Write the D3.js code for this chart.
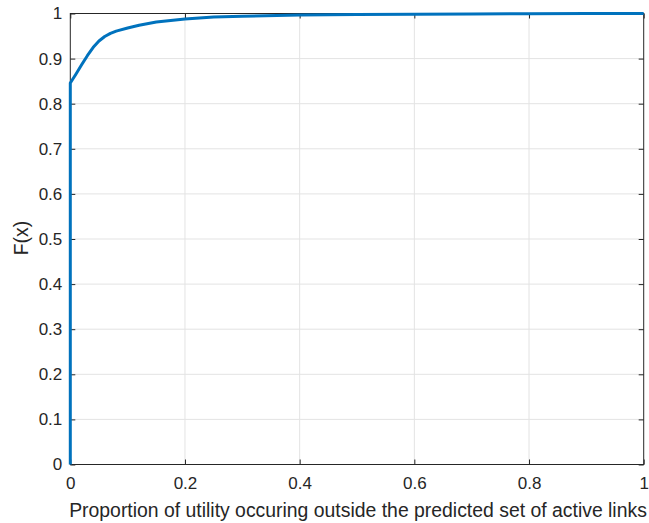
<!DOCTYPE html>
<html><head><meta charset="utf-8">
<script src="https://cdn.jsdelivr.net/npm/d3@7"></script>
<style>body{margin:0;background:#fff}svg{display:block}</style>
</head><body><svg id="c" width="649" height="523"></svg>
<script>
const xVals = [0, 0, 0.01, 0.02, 0.03, 0.04, 0.05, 0.06, 0.07, 0.08, 0.1, 0.12, 0.15, 0.2, 0.25, 0.3, 0.4, 0.5, 0.6, 0.7, 0.8, 0.9, 1];
const yVals = [0, 0.846, 0.866, 0.887, 0.907, 0.925, 0.939, 0.949, 0.956, 0.961, 0.968, 0.974, 0.981, 0.988, 0.992, 0.994, 0.9965, 0.998, 0.9985, 0.999, 0.9995, 0.9998, 1];
const xTicks = [0, 0.2, 0.4, 0.6, 0.8, 1];
const yTicks = [0, 0.1, 0.2, 0.3, 0.4, 0.5, 0.6, 0.7, 0.8, 0.9, 1];
const xLabel = "Proportion of utility occuring outside the predicted set of active links";
const yLabel = "F(x)";

const L = 70.3, R = 643.7, T = 13.5, B = 464.5;
const svg = d3.select("#c");
const x = d3.scaleLinear().domain([0, 1]).range([L, R]);
const y = d3.scaleLinear().domain([0, 1]).range([B, T]);
const font = "'Liberation Sans', Arial, Helvetica, sans-serif";
const axisCol = "#262626";

// grid
svg.append("g").selectAll("line").data(xTicks.slice(1, -1)).join("line")
  .attr("x1", d => x(d)).attr("x2", d => x(d)).attr("y1", T).attr("y2", B)
  .attr("stroke", "#e3e3e3").attr("stroke-width", 1);
svg.append("g").selectAll("line").data(yTicks.slice(1, -1)).join("line")
  .attr("x1", L).attr("x2", R).attr("y1", d => y(d)).attr("y2", d => y(d))
  .attr("stroke", "#e3e3e3").attr("stroke-width", 1);

// axes (ticks inward)
const gx = svg.append("g").attr("transform", `translate(0,${B})`)
  .call(d3.axisBottom(x).tickValues(xTicks).tickFormat(d3.format("~g")).tickSizeInner(-5).tickSizeOuter(0).tickPadding(12));
const gxt = svg.append("g").attr("transform", `translate(0,${T})`)
  .call(d3.axisTop(x).tickValues(xTicks).tickFormat("").tickSizeInner(-5).tickSizeOuter(0));
const gy = svg.append("g").attr("transform", `translate(${L},0)`)
  .call(d3.axisLeft(y).tickValues(yTicks).tickFormat(d3.format("~g")).tickSizeInner(-5).tickSizeOuter(0).tickPadding(8));
const gyr = svg.append("g").attr("transform", `translate(${R},0)`)
  .call(d3.axisRight(y).tickValues(yTicks).tickFormat("").tickSizeInner(-5).tickSizeOuter(0));
[gx, gxt, gy, gyr].forEach(g => {
  g.select(".domain").remove();
  g.selectAll("line").attr("stroke", axisCol).attr("stroke-width", 1);
  g.selectAll("text").attr("fill", axisCol).style("font-family", font).style("font-size", "17px");
});

// box
svg.append("rect").attr("x", L).attr("y", T).attr("width", R - L).attr("height", B - T)
  .attr("fill", "none").attr("stroke", axisCol).attr("stroke-width", 1);

// curve
const pts = xVals.map((v, i) => [v, yVals[i]]);
svg.append("path").datum(pts)
  .attr("d", d3.line().x(d => x(d[0])).y(d => y(d[1])))
  .attr("fill", "none").attr("stroke", "#0072BD").attr("stroke-width", 3).attr("stroke-linejoin", "round");

// labels
svg.append("text").attr("x", (L + R) / 2 + 1).attr("y", 517).attr("text-anchor", "middle")
  .attr("fill", axisCol).style("font-family", font).style("font-size", "19.4px").text(xLabel);
svg.append("text").attr("transform", `translate(28,238) rotate(-90)`).attr("text-anchor", "middle")
  .attr("fill", axisCol).style("font-family", font).style("font-size", "19.4px").text(yLabel);
</script></body></html>
